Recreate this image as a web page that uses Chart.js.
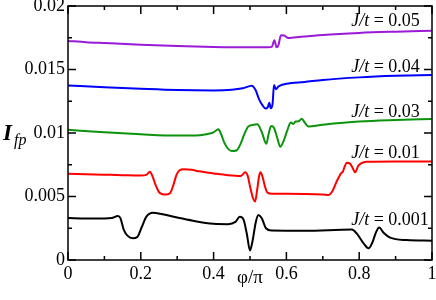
<!DOCTYPE html>
<html><head><meta charset="utf-8">
<script src="https://cdn.jsdelivr.net/npm/chart.js@4.4.0/dist/chart.umd.min.js"></script>
<style>html,body{margin:0;padding:0;background:#fff;}canvas{display:block;}</style>
</head><body>
<canvas id="c" width="436" height="300"></canvas>
<script>
// ---- data (phi/pi, I_fp) ----
const phi005 = [0,0.05,0.1,0.2,0.3,0.4,0.5,0.55,0.56,0.567,0.573,0.578,0.585,0.594,0.605,0.62,0.7,0.8,0.9,1.0];
const ifp005 = [0.01725,0.01715,0.01708,0.01695,0.01685,0.01678,0.01675,0.01675,0.01678,0.01730,0.01675,0.01690,0.01770,0.01768,0.01748,0.01752,0.01772,0.01788,0.01798,0.01806];

const phi004 = [0,0.1,0.2,0.3,0.4,0.45,0.48,0.505,0.515,0.525,0.535,0.543,0.549,0.553,0.557,0.562,0.566,0.571,0.579,0.6,0.65,0.7,0.8,0.9,1.0];
const ifp004 = [0.01375,0.01360,0.01348,0.01338,0.01335,0.01340,0.01352,0.01373,0.01340,0.01265,0.01215,0.01192,0.01205,0.01238,0.01195,0.01230,0.01378,0.01345,0.01368,0.01388,0.01402,0.01418,0.01438,0.01450,0.01457];

const phi003 = [0,0.1,0.2,0.3,0.35,0.38,0.4,0.413,0.42,0.43,0.44,0.45,0.463,0.475,0.485,0.495,0.51,0.52,0.532,0.545,0.551,0.558,0.566,0.575,0.583,0.592,0.603,0.612,0.619,0.625,0.633,0.642,0.651,0.66,0.7,0.8,0.9,1.0];
const ifp003 = [0.01025,0.01005,0.00990,0.00980,0.00980,0.00990,0.01005,0.01030,0.00995,0.00920,0.00875,0.00858,0.00862,0.00920,0.00995,0.01050,0.01065,0.01068,0.01010,0.00915,0.00990,0.01055,0.01040,0.00960,0.00892,0.00935,0.01025,0.01082,0.01070,0.01090,0.01092,0.01112,0.01080,0.01052,0.01065,0.01090,0.01102,0.01110];

const phi001 = [0,0.05,0.1,0.15,0.2,0.215,0.225,0.232,0.24,0.25,0.258,0.268,0.28,0.29,0.298,0.306,0.318,0.34,0.36,0.4,0.44,0.475,0.487,0.494,0.5,0.508,0.514,0.52,0.525,0.529,0.535,0.541,0.548,0.56,0.6,0.65,0.7,0.716,0.725,0.74,0.75,0.755,0.76,0.766,0.775,0.782,0.789,0.797,0.805,0.82,0.9,1.0];
const ifp001 = [0.00680,0.00676,0.00672,0.00668,0.00665,0.00670,0.00695,0.00660,0.00595,0.00535,0.00520,0.00515,0.00525,0.00595,0.00670,0.00705,0.00714,0.00710,0.00698,0.00682,0.00668,0.00662,0.00690,0.00660,0.00580,0.00490,0.00460,0.00560,0.00660,0.00690,0.00650,0.00580,0.00530,0.00522,0.00522,0.00520,0.00515,0.00512,0.00535,0.00630,0.00682,0.00695,0.00735,0.00766,0.00758,0.00725,0.00690,0.00740,0.00760,0.00774,0.00776,0.00776];

const phi0001 = [0,0.05,0.1,0.12,0.137,0.144,0.153,0.164,0.178,0.19,0.203,0.215,0.233,0.26,0.3,0.35,0.4,0.44,0.46,0.472,0.482,0.491,0.5,0.507,0.516,0.523,0.532,0.544,0.56,0.65,0.78,0.794,0.812,0.826,0.835,0.847,0.855,0.867,0.885,0.93,1.0];
const ifp0001 = [0.00330,0.00327,0.00327,0.00330,0.00346,0.00330,0.00240,0.00190,0.00172,0.00180,0.00262,0.00340,0.00373,0.00360,0.00335,0.00305,0.00285,0.00282,0.00300,0.00340,0.00320,0.00210,0.00075,0.00150,0.00300,0.00354,0.00330,0.00250,0.00232,0.00230,0.00240,0.00205,0.00131,0.00092,0.00130,0.00223,0.00255,0.00215,0.00176,0.00157,0.00152];

const seriesLabels = ['0.05','0.04','0.03','0.01','0.001'];
const seriesColors = ['#9a1ad8','#0000ff','#0c930c','#ff0000','#000000'];
// label anchors (phi/pi, I_fp) for the J/t annotations
const labelPhi = 0.778;
const labelIfp = [0.018386,0.014764,0.011299,0.008031,0.002756];

const xMin = 0, xMax = 1, xStep = 0.1, xMajor = 0.2;
const yMin = 0, yMax = 0.02, yStep = 0.0025, yMajor = 0.005;

const xs = [phi005,phi004,phi003,phi001,phi0001];
const ys = [ifp005,ifp004,ifp003,ifp001,ifp0001];

const FONT = "'Liberation Serif','Times New Roman',serif";

function isMajor(v, m){ const r = v/m; return Math.abs(r-Math.round(r)) < 1e-6; }

const framePlugin = {
  id:'frame',
  afterDraw(chart){
    const ctx = chart.ctx, a = chart.chartArea;
    const sx = chart.scales.x, sy = chart.scales.y;
    ctx.save();
    ctx.strokeStyle = '#000';
    ctx.lineWidth = 1.5;
    ctx.strokeRect(a.left, a.top, a.right-a.left, a.bottom-a.top);
    ctx.beginPath();
    sx.ticks.forEach(t=>{
      const p = sx.getPixelForValue(t.value);
      const L = isMajor(t.value,xMajor) ? 8 : 4;
      ctx.moveTo(p, a.bottom); ctx.lineTo(p, a.bottom-L);
      ctx.moveTo(p, a.top); ctx.lineTo(p, a.top+L);
    });
    sy.ticks.forEach(t=>{
      const p = sy.getPixelForValue(t.value);
      const L = isMajor(t.value,yMajor) ? 8 : 4;
      ctx.moveTo(a.left, p); ctx.lineTo(a.left+L, p);
      ctx.moveTo(a.right, p); ctx.lineTo(a.right-L, p);
    });
    ctx.stroke();
    // J/t annotations
    ctx.fillStyle = '#000';
    ctx.textBaseline = 'alphabetic';
    ctx.textAlign = 'left';
    seriesLabels.forEach((s,i)=>{
      const x = sx.getPixelForValue(labelPhi);
      const y = sy.getPixelForValue(labelIfp[i]);
      ctx.font = "italic 18px " + FONT;
      ctx.fillText('J/t', x, y);
      const w = ctx.measureText('J/t').width;
      ctx.font = "18px " + FONT;
      ctx.fillText(' = ' + s, x + w, y);
    });
    // axis titles
    ctx.font = "italic bold 23px " + FONT;
    ctx.fillText('I', 3, 140);
    ctx.font = "italic 16px " + FONT;
    ctx.fillText('fp', 14, 144.5);
    ctx.font = "19px " + FONT;
    ctx.textAlign = 'center';
    ctx.fillText('\u03C6/\u03C0', (a.left+a.right)/2, 283);
    ctx.restore();
  }
};

const datasets = xs.map((xa,i)=>({
  label: 'J/t = ' + seriesLabels[i],
  data: xa.map((x,j)=>({x:x, y:ys[i][j]})),
  borderColor: seriesColors[i],
  borderWidth: 2,
  pointRadius: 0,
  fill: false,
  cubicInterpolationMode: 'monotone'
}));

new Chart(document.getElementById('c'), {
  type: 'line',
  data: { datasets },
  options: {
    responsive: false,
    animation: false,
    devicePixelRatio: 1,
    layout: { padding: { top: 6, right: 4, left: 0, bottom: 0 } },
    plugins: { legend: { display: false }, tooltip: { enabled: false } },
    scales: {
      x: {
        type: 'linear', min: xMin, max: xMax,
        grid: { display: false, drawTicks: false },
        border: { display: false },
        ticks: {
          stepSize: xStep, autoSkip: false, maxRotation: 0, padding: 3,
          color: '#000', font: { family: FONT, size: 18 },
          callback: v => isMajor(v,xMajor) ? String(Math.round(v*10)/10) : ''
        },
        afterFit: s => { s.height = 40; s.paddingLeft = 0; s.paddingRight = 0; }
      },
      y: {
        type: 'linear', min: yMin, max: yMax,
        grid: { display: false, drawTicks: false },
        border: { display: false },
        ticks: {
          stepSize: yStep, autoSkip: false, padding: 3,
          color: '#000', font: { family: FONT, size: 18 },
          callback: v => isMajor(v,yMajor) ? String(Math.round(v*10000)/10000) : ''
        },
        afterFit: s => { s.width = 68; s.paddingTop = 0; s.paddingBottom = 0; }
      }
    }
  },
  plugins: [framePlugin]
});
</script>
</body></html>
